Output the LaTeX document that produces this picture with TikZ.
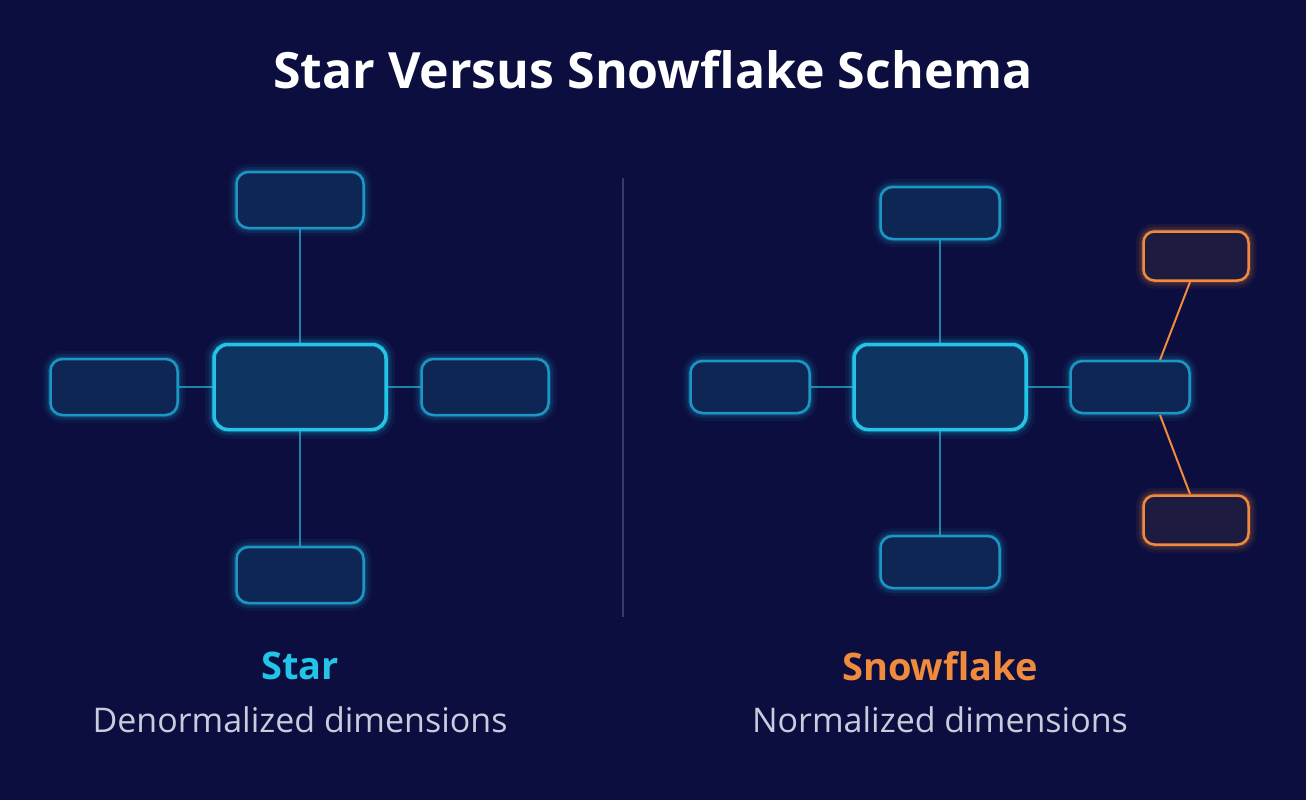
\documentclass[tikz,border=0pt]{standalone}
\usepackage{fontspec}
\setmainfont{Open Sans}
\usepackage{xcolor}
\usetikzlibrary{positioning}
\definecolor{bgnavy}{RGB}{11,14,62}
\definecolor{factfill}{RGB}{14,52,98}
\definecolor{dimfill}{RGB}{13,38,84}
\definecolor{snowfill}{RGB}{30,27,64}
\definecolor{cyanline}{RGB}{36,196,232}
\definecolor{dimline}{RGB}{28,150,196}
\definecolor{linkline}{RGB}{30,130,172}
\definecolor{orangeline}{RGB}{240,138,60}
\definecolor{subgray}{RGB}{200,204,220}
\definecolor{divgray}{RGB}{52,60,104}

\begin{document}
\begin{tikzpicture}[x=1pt,y=-1pt]
            \tikzset{fact/.style = {draw=cyanline, fill=factfill, line width=3.5pt, rounded corners=14pt,
                minimum width=172pt, minimum height=85pt,
                preaction={draw=cyanline, line width=18pt, opacity=0.07},
                preaction={draw=cyanline, line width=11pt, opacity=0.12},
                preaction={draw=cyanline, line width=6pt, opacity=0.2}}}
            \tikzset{dim/.style = {draw=dimline, fill=dimfill, line width=2.5pt, rounded corners=12pt,
                minimum width=127pt, minimum height=56pt,
                preaction={draw=cyanline, line width=16pt, opacity=0.06},
                preaction={draw=cyanline, line width=10pt, opacity=0.1},
                preaction={draw=cyanline, line width=5pt, opacity=0.18}}}
            \tikzset{snow/.style = {draw=orangeline, fill=snowfill, line width=2.5pt, rounded corners=11pt,
                minimum width=105pt, minimum height=49pt,
                preaction={draw=orangeline, line width=16pt, opacity=0.07},
                preaction={draw=orangeline, line width=10pt, opacity=0.11},
                preaction={draw=orangeline, line width=5pt, opacity=0.18}}}
            \tikzset{link/.style = {draw=linkline, line width=2.5pt}}
            \tikzset{olink/.style = {draw=orangeline, line width=2pt}}

            % background
            \fill[bgnavy] (0,0) rectangle (1306,800);
            \useasboundingbox (0,0) rectangle (1306,800);

            % title
            \node[text=white, font=\fontsize{50}{58}\selectfont\bfseries] (title) at (653,70) {Star Versus Snowflake Schema};

            % divider
            \draw[divgray, line width=2pt] (623,178) -- (623,617);

            % star links
            \draw[link] (300,200) -- (300,575);
            \draw[link] (114,387) -- (485,387);

            % star schema
            \node[fact] (sfact) at (300,387) {};
            \node[dim] (stop) at (300,200) {};
            \node[dim] (sbot) at (300,575) {};
            \node[dim] (sleft) at (114,387) {};
            \node[dim] (sright) at (485,387) {};

            % snowflake links
            \draw[link] (940,213) -- (940,562);
            \draw[link] (750,387) -- (1130,387);

            % snowflake schema
            \node[fact] (ffact) at (940,387) {};
            \node[dim, minimum width=119pt, minimum height=52pt] (ftop) at (940,213) {};
            \node[dim, minimum width=119pt, minimum height=52pt] (fbot) at (940,562) {};
            \node[dim, minimum width=119pt, minimum height=52pt] (fleft) at (750,387) {};
            \node[dim, minimum width=119pt, minimum height=52pt] (fright) at (1130,387) {};
            \node[snow] (otop) at (1196,256) {};
            \node[snow] (obot) at (1196,520) {};

            % normalized branches
            \coordinate (ft) at (1160,360);
            \coordinate (fb) at (1160,415);
            \coordinate (ot) at (1190,282);
            \coordinate (ob) at (1190,494);
            \draw[olink] (ot) -- (ft);
            \draw[olink] (fb) -- (ob);

            % captions
            \node[text=cyanline, font=\fontsize{38}{44}\selectfont\bfseries] (starlbl) at (300,666) {Star};
            \node[text=subgray, font=\fontsize{34}{40}\selectfont] (starsub) at (300,720) {Denormalized dimensions};
            \node[text=orangeline, font=\fontsize{38}{44}\selectfont\bfseries] (snowlbl) at (940,666) {Snowflake};
            \node[text=subgray, font=\fontsize{34}{40}\selectfont] (snowsub) at (940,720) {Normalized dimensions};

        \end{tikzpicture}
\end{document}
